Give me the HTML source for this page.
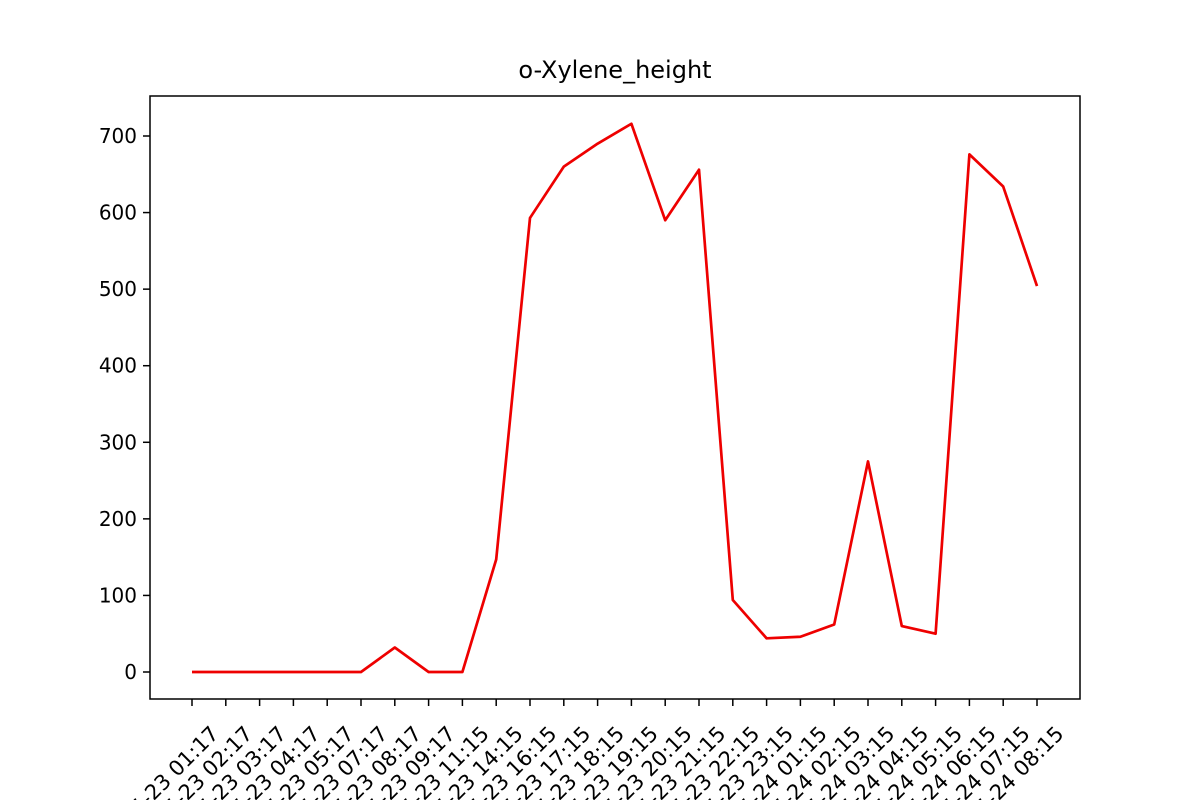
<!DOCTYPE html>
<html><head><meta charset="utf-8"><style>html,body{margin:0;background:#fff;width:1200px;height:800px;overflow:hidden}svg{display:block;font-family:"DejaVu Sans","Liberation Sans",sans-serif}</style></head>
<body>
<svg id="chart" width="1200" height="800" viewBox="0 0 1200 800" overflow="hidden">
<rect width="1200" height="800" fill="#fff"/>
<text x="615" y="78" font-size="24" text-anchor="middle">o-Xylene_height</text>
<g id="yaxis"></g>
<g id="xaxis"></g>
<path id="line" fill="none" stroke="#ee0000" stroke-width="2.7" stroke-linejoin="round"/>
<rect x="150" y="96" width="930" height="603" fill="none" stroke="#000" stroke-width="1.5"/>
</svg>
<script>
const categories=["2023-05-23 01:17","2023-05-23 02:17","2023-05-23 03:17","2023-05-23 04:17","2023-05-23 05:17","2023-05-23 07:17","2023-05-23 08:17","2023-05-23 09:17","2023-05-23 11:15","2023-05-23 14:15","2023-05-23 16:15","2023-05-23 17:15","2023-05-23 18:15","2023-05-23 19:15","2023-05-23 20:15","2023-05-23 21:15","2023-05-23 22:15","2023-05-23 23:15","2023-05-24 01:15","2023-05-24 02:15","2023-05-24 03:15","2023-05-24 04:15","2023-05-24 05:15","2023-05-24 06:15","2023-05-24 07:15","2023-05-24 08:15"];
const values=[0,0,0,0,0,0,32,0,0,147,593,660,690,716,590,656,94,44,46,62,275,60,50,676,634,504];
const yTicks=[0,100,200,300,400,500,600,700];
const NS="http://www.w3.org/2000/svg";
const x0=192,x1=1037;
const xs=i=>x0+(x1-x0)*i/(categories.length-1);
const ys=v=>672-v*536/700;
const ya=document.getElementById('yaxis'),xa=document.getElementById('xaxis');
function mk(t,a,p){const e=document.createElementNS(NS,t);for(const k in a)e.setAttribute(k,a[k]);p.appendChild(e);return e;}
yTicks.forEach(v=>{
 const l=mk('line',{x1:143,x2:150,y1:ys(v),y2:ys(v),stroke:'#000','stroke-width':1.5},ya);
 
 
 const t=mk('text',{x:137,y:ys(v)+7,'font-size':20,'text-anchor':'end'},ya);
 
 
 t.textContent=v;
});
categories.forEach((c,i)=>{
 const x=xs(i);
 const l=mk('line',{x1:x,x2:x,y1:699,y2:706,stroke:'#000','stroke-width':1.5},xa);
 
 
 const bx=x+28, by=735;
 const t=mk('text',{x:bx,y:by,'font-size':21,'text-anchor':'end',transform:`rotate(-45 ${bx} ${by})`},xa);
 
 
 t.textContent=c;
});
document.getElementById('line').setAttribute('d',values.map((v,i)=>(i?'L':'M')+xs(i)+','+ys(v)).join(''));
</script>
</body></html>
